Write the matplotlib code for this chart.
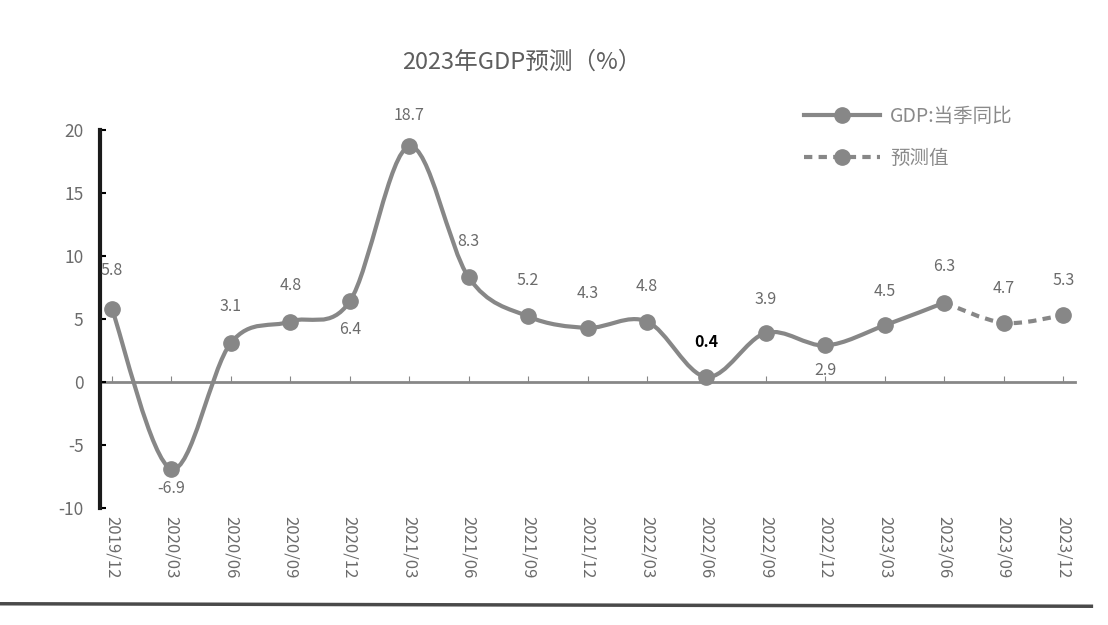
# 2023年GDP预测 chart
import numpy as np
import matplotlib.pyplot as plt
from matplotlib.path import Path
from matplotlib.patches import PathPatch
from matplotlib.lines import Line2D

plt.rcParams['font.family'] = ['Noto Sans CJK SC', 'DejaVu Sans']
plt.rcParams['axes.unicode_minus'] = False

# data
quarters = ['2019/12', '2020/03', '2020/06', '2020/09', '2020/12',
            '2021/03', '2021/06', '2021/09', '2021/12', '2022/03',
            '2022/06', '2022/09', '2022/12', '2023/03', '2023/06',
            '2023/09', '2023/12']
gdp_actual = [5.8, -6.9, 3.1, 4.8, 6.4, 18.7, 8.3, 5.2, 4.3, 4.8,
              0.4, 3.9, 2.9, 4.5, 6.3]
gdp_forecast = [6.3, 4.7, 5.3]   # starts at 2023/06
forecast_start = 14

# label offsets in points (dy)
label_dy = [28, -14, 26, 26, -20, 22, 26, 26, 25, 25,
            25, 24, -18, 24, 26, 25, 25]

line_color = '#878787'
text_color = '#6b6b6b'


def smooth_path(xs, ys):
    # Catmull-Rom style bezier through the points (like Excel smoothed line)
    pts = np.column_stack([xs, ys]).astype(float)
    n = len(pts)
    verts = [pts[0]]
    codes = [Path.MOVETO]
    for i in range(n - 1):
        p0 = pts[i - 1] if i > 0 else pts[i]
        p3 = pts[i + 2] if i + 2 < n else pts[i + 1]
        c1 = pts[i] + (pts[i + 1] - p0) / 6
        c2 = pts[i + 1] - (p3 - pts[i]) / 6
        verts += [c1, c2, pts[i + 1]]
        codes += [Path.CURVE4] * 3
    return Path(verts, codes)


fig = plt.figure(figsize=(11.08, 6.25), dpi=100)
ax = fig.add_axes([0.0903, 0.1872, 0.88, 0.6048])

x_act = np.arange(len(gdp_actual))
x_fc = np.arange(forecast_start, forecast_start + len(gdp_forecast))

ax.add_patch(PathPatch(smooth_path(x_act, gdp_actual), fill=False,
                       edgecolor=line_color, lw=3, zorder=3))
ax.add_patch(PathPatch(smooth_path(x_fc, gdp_forecast), fill=False,
                       edgecolor=line_color, lw=3, linestyle=(0, (2, 1.5)),
                       zorder=3))
ax.plot(x_act, gdp_actual, 'o', color=line_color, ms=11, zorder=4)
ax.plot(x_fc[1:], gdp_forecast[1:], 'o', color=line_color, ms=11, zorder=4)

# data labels
all_vals = gdp_actual + gdp_forecast[1:]
for i, v in enumerate(all_vals):
    bold = quarters[i] == '2022/06'
    ax.annotate(f'{v:.1f}', (i, v), xytext=(0, label_dy[i]),
                textcoords='offset points', ha='center', va='center',
                fontsize=11.5, color='black' if bold else text_color,
                fontweight='bold' if bold else 'normal', zorder=5)

ax.set_xlim(-0.2, 16.2)
ax.set_ylim(-10, 20)
ax.set_yticks([-10, -5, 0, 5, 10, 15, 20])
ax.set_xticks(x_act.tolist() + x_fc[1:].tolist())
ax.set_xticklabels(quarters, rotation=-90, fontsize=12, color=text_color)
ax.tick_params(axis='x', length=0, pad=6)
ax.tick_params(axis='y', direction='in', length=4, width=1.5, color='black',
               labelsize=12.5, labelcolor=text_color, pad=12)

for s in ['top', 'right', 'bottom']:
    ax.spines[s].set_visible(False)
ax.spines['left'].set_linewidth(3)
ax.spines['left'].set_color('#1a1a1a')

# zero line with small category ticks
zero_ax = ax.secondary_xaxis(1 / 3)
zero_ax.set_xticks(ax.get_xticks())
zero_ax.tick_params(direction='in', length=4, color=line_color, labelbottom=False)
zero_ax.spines['bottom'].set_color(line_color)
zero_ax.spines['bottom'].set_linewidth(2)

fig.text(0.471, 0.90, '2023年GDP预测（%）', ha='center', va='center',
         fontsize=17, color='#5e5e5e')

handles = [
    Line2D([], [], color=line_color, lw=3, marker='o', ms=11),
    Line2D([], [], color=line_color, lw=3, marker='o', ms=11,
           linestyle=(0, (2, 1.5))),
]
leg = fig.legend(handles, ['GDP:当季同比', '预测值'], loc='upper left',
                 bbox_to_anchor=(0.726, 0.83), frameon=False, fontsize=14,
                 handlelength=3.9, handletextpad=0.5, labelspacing=1.05,
                 borderpad=0, borderaxespad=0)
for t in leg.get_texts():
    t.set_color('#8a8a8a')

# page edge line from the scan
fig.add_artist(Line2D([0.0, 0.985], [0.034, 0.030], color='#4a4a4a', lw=2.5,
                      transform=fig.transFigure))

fig.savefig('out.png', dpi=100)
